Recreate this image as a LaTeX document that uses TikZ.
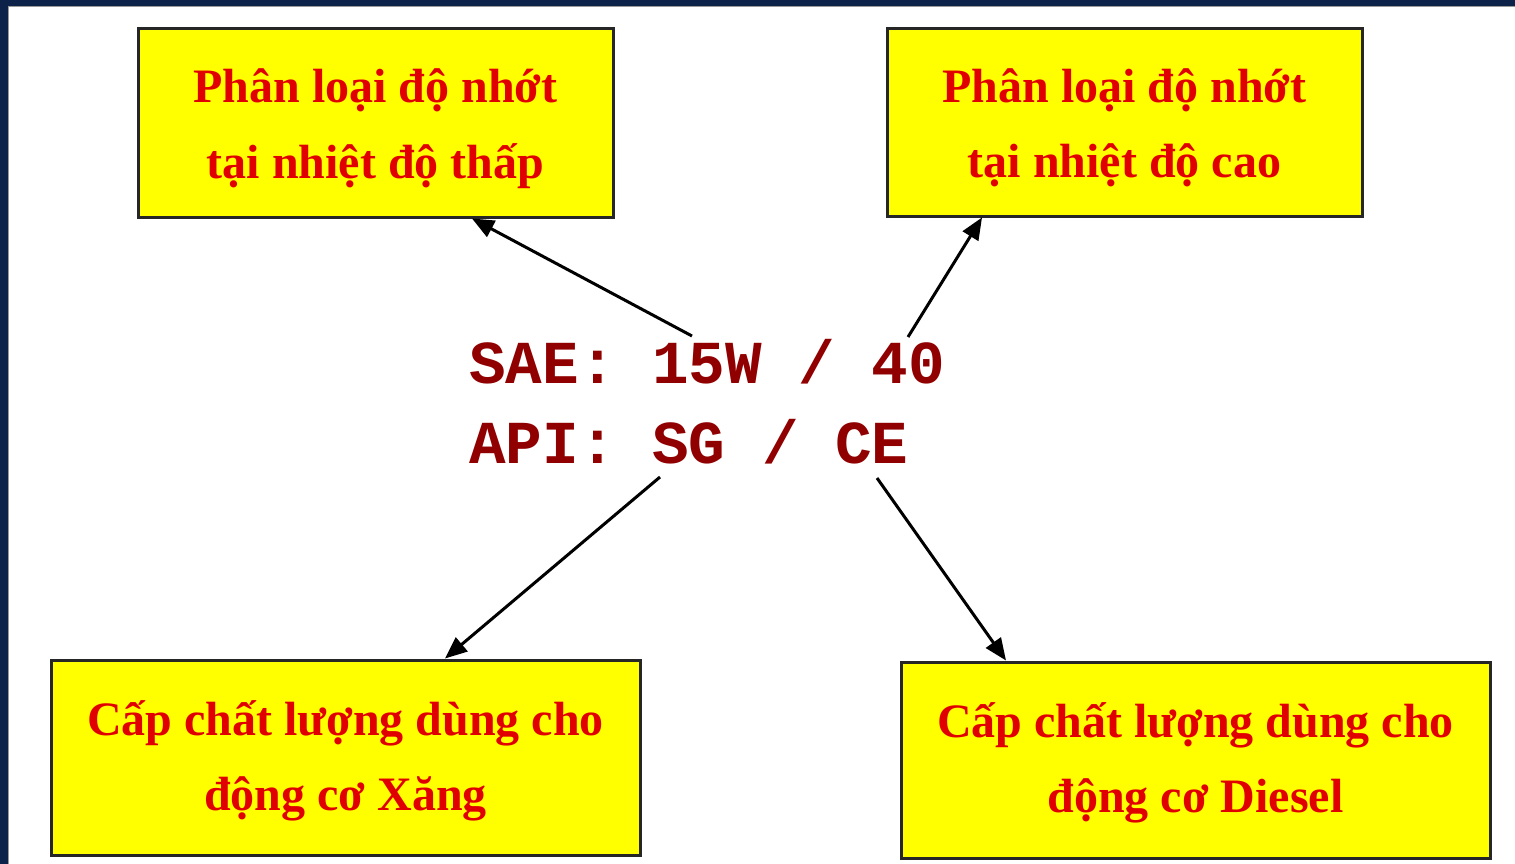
\documentclass[tikz,border=0pt]{standalone}
\usepackage{fontspec}
\newfontfamily\boxfont{Liberation Serif}
\newfontfamily\codefont{Liberation Mono}
\usetikzlibrary{arrows.meta,calc}
\definecolor{navy}{RGB}{12,34,72}
\definecolor{boxred}{RGB}{225,0,0}
\definecolor{codered}{RGB}{145,0,0}
\definecolor{boxyellow}{RGB}{255,255,0}
\tikzset{
  infobox/.style={draw=black!85, line width=3pt, fill=boxyellow, align=center,
    text=boxred, font=\boxfont\bfseries\fontsize{48}{75}\selectfont,
    text depth=10pt, inner sep=0pt},
  link/.style={line width=3pt, draw=black, -{Triangle[length=22pt,width=18pt]}},
}
\begin{document}
\begin{tikzpicture}[x=1pt,y=-1pt]
\useasboundingbox (0,0) rectangle (1515,864);
\fill[white] (0,0) rectangle (1515,864);
\fill[navy] (0,0) rectangle (1515,6);
\fill[navy] (0,0) rectangle (8,864);
\draw[black!40, line width=1pt] (8,6.5) -- (1515,6.5);
\draw[black!40, line width=1pt] (8.5,6) -- (8.5,864);

\node[infobox, text height=120pt, minimum width=475pt, minimum height=188pt] (tl) at (375.5,123)
  {Phân loại độ nhớt\\tại nhiệt độ thấp};
\node[infobox, text height=120pt, minimum width=475pt, minimum height=187pt] (tr) at (1124.5,122.5)
  {Phân loại độ nhớt\\tại nhiệt độ cao};
\node[infobox, text height=115pt, minimum width=589pt, minimum height=195pt] (bl) at (345.5,757.5)
  {Cấp chất lượng dùng cho\\động cơ Xăng};
\node[infobox, text height=115pt, minimum width=589pt, minimum height=196pt] (br) at (1195.5,760)
  {Cấp chất lượng dùng cho\\động cơ Diesel};

\node[anchor=base west, inner sep=0pt, align=left, text=codered,
  font=\codefont\bfseries\fontsize{61}{80}\selectfont] (code) at (469,463)
  {SAE: 15W / 40\\API: SG / CE};

\coordinate (s1) at (692,336);
\coordinate (s2) at (908,337);
\coordinate (s3) at (660,477);
\coordinate (s4) at (877,478);

\draw[link] (s1) -- ([xshift=96.5pt]tl.south);
\draw[link] (s2) -- ([xshift=-142.5pt]tr.south);
\draw[link] (s3) -- ([xshift=99.5pt]bl.north);
\draw[link] (s4) -- ([xshift=-189.5pt]br.north);
\end{tikzpicture}
\end{document}
